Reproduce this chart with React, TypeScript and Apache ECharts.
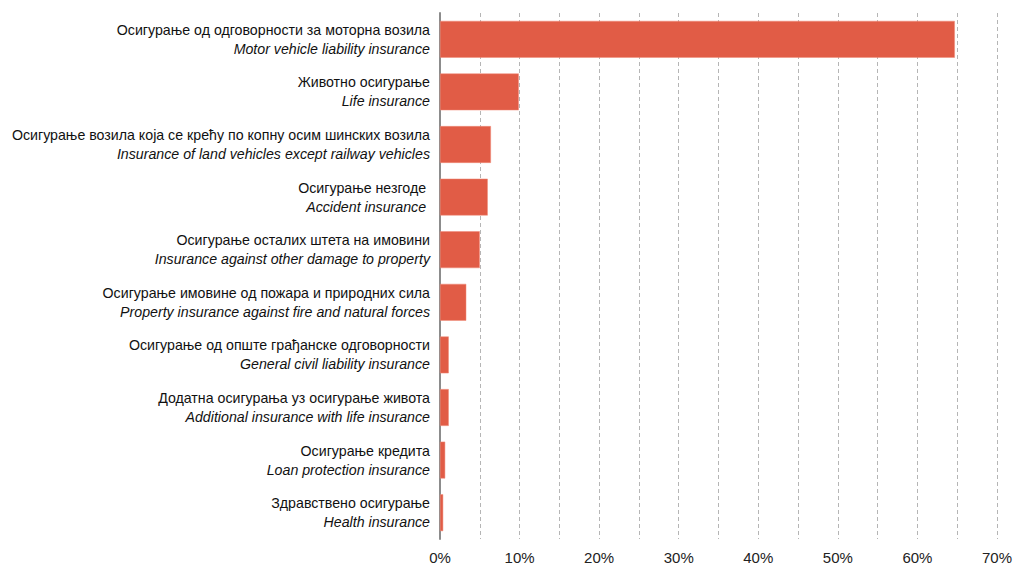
import React, { useEffect, useRef } from "react";
import * as echarts from "echarts";

const categoriesSr = [
  "Осигурање од одговорности за моторна возила",
  "Животно осигурање",
  "Осигурање возила која се крећу по копну осим шинских возила",
  "Осигурање незгоде ",
  "Осигурање осталих штета на имовини",
  "Осигурање имовине од пожара и природних сила",
  "Осигурање од опште грађанске одговорности",
  "Додатна осигурања уз осигурање живота",
  "Осигурање кредита",
  "Здравствено осигурање",
];

const categoriesEn = [
  "Motor vehicle liability insurance",
  "Life insurance",
  "Insurance of land vehicles except railway vehicles",
  "Accident insurance ",
  "Insurance against other damage to property",
  "Property insurance against fire and natural forces",
  "General civil liability insurance",
  "Additional insurance with life insurance",
  "Loan protection insurance",
  "Health insurance",
];

const shares = [64.7, 9.9, 6.4, 6.0, 5.0, 3.3, 1.1, 1.1, 0.65, 0.4];

const xTicks = [0, 10, 20, 30, 40, 50, 60, 70];

export default function App() {
  const ref = useRef<HTMLDivElement>(null);
  useEffect(() => {
    if (!ref.current) return;
    const chart = echarts.init(ref.current, null, { renderer: "svg" });
    const labels = categoriesSr.map((s, i) => `${s}\n${categoriesEn[i]}`);
    chart.setOption({
      animation: false,
      textStyle: { fontFamily: "Liberation Sans, Arial, sans-serif" },
      grid: { left: 440, right: 16, top: 13, bottom: 29, containLabel: false },
      xAxis: {
        type: "value",
        min: 0,
        max: 70,
        interval: 5,
        axisLine: { show: false },
        axisTick: { show: false },
        axisLabel: {
          formatter: (v: number) => (xTicks.includes(Math.round(v)) ? `${Math.round(v)}%` : ""),
          color: "#222",
          fontSize: 15,
          margin: 11,
          fontFamily: "Liberation Sans, Arial, sans-serif",
        },
        splitLine: {
          show: true,
          lineStyle: { color: "#b5b5b5", type: [4, 3], width: 1 },
        },
      },
      yAxis: {
        type: "category",
        inverse: true,
        data: labels,
        axisLine: { show: true, lineStyle: { color: "#8c8c8c", width: 2 } },
        axisTick: { show: false },
        axisLabel: {
          margin: 10,
          formatter: (v: string) => {
            const [a, b] = v.split("\n");
            return `{a|${a}}\n{b|${b}}`;
          },
          rich: {
            a: {
              fontSize: 14.2,
              color: "#111",
              lineHeight: 19,
              align: "right",
              fontFamily: "Liberation Sans, Arial, sans-serif",
            },
            b: {
              fontSize: 14.2,
              color: "#111",
              fontStyle: "italic",
              lineHeight: 19,
              align: "right",
              fontFamily: "Liberation Sans, Arial, sans-serif",
            },
          },
        },
      },
      series: [
        {
          type: "bar",
          data: shares,
          barWidth: "70%",
          itemStyle: { color: "#E15C46", borderColor: "#F08A78", borderWidth: 0.5 },
        },
      ],
    });
    return () => chart.dispose();
  }, []);
  return (
    <div
      ref={ref}
      style={{ position: "absolute", left: 0, top: 0, width: 1015, height: 568 }}
    />
  );
}
